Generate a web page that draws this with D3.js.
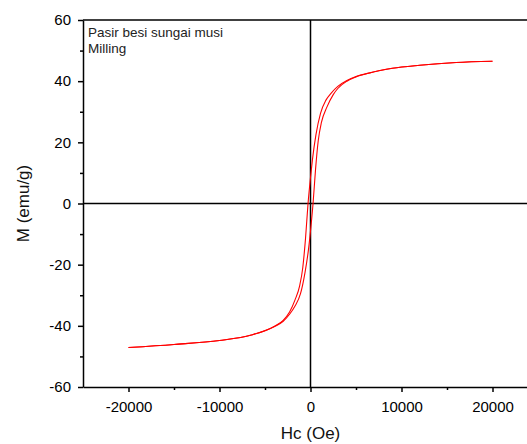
<!DOCTYPE html>
<html>
<head>
<meta charset="utf-8">
<script src="https://cdn.jsdelivr.net/npm/d3@7"></script>
<style>
  body { margin: 0; background: #fff; }
  svg { display: block; font-family: "Liberation Sans", Arial, sans-serif; }
</style>
</head>
<body>
<svg class="chart"></svg>
<script>
// descending branch (left loop side), field in Oe, M in emu/g
var descH = [-20000, -15000, -10000, -6500, -4000, -3000, -2300, -1700, -1200, -850, -550, -270, 0, 220, 600, 1100, 1700, 2300, 3000, 4000, 5000, 6500, 9000, 12000, 16000, 20000];
var descM = [-47.1, -46.1, -44.8, -43.0, -40.2, -38.2, -35.5, -31.5, -27.0, -21.0, -11.5, 0, 8.5, 14.5, 22.5, 29.5, 33.8, 36.2, 38.3, 40.2, 41.5, 42.7, 44.2, 45.2, 46.1, 46.5];

// ascending branch (right loop side)
var ascH = [-20000, -15000, -10000, -6500, -4000, -3000, -2300, -1700, -1100, -600, -220, 0, 280, 550, 850, 1200, 1800, 2500, 3000, 4000, 5000, 6500, 9000, 12000, 16000, 20000];
var ascM = [-47.1, -46.1, -44.8, -43.0, -40.3, -38.5, -36.2, -33.5, -29.5, -22.5, -15.0, -9.0, 0, 11.0, 20.5, 26.5, 31.5, 35.6, 37.6, 40.0, 41.4, 42.7, 44.2, 45.2, 46.1, 46.5];

var xMajor = [-20000, -10000, 0, 10000, 20000];
var xMinor = [-15000, -5000, 5000, 15000];
var yMajor = [-60, -40, -20, 0, 20, 40, 60];
var yMinor = [-50, -30, -10, 10, 30, 50];

var labelLines = ["Pasir besi sungai musi", "Milling"];

var W = 527, H = 444;
var svg = d3.select(".chart").attr("width", W).attr("height", H);

var x = d3.scaleLinear().domain([-25000, 25000]).range([83, 538]);
var y = d3.scaleLinear().domain([-60, 60]).range([387, 20]);

var plain = function (d) { return String(d); };

// minor ticks first
svg.append("g")
  .attr("transform", "translate(0,387)")
  .call(d3.axisBottom(x).tickValues(xMinor).tickSize(3).tickFormat(""))
  .call(function (g) { g.select(".domain").remove(); })
  .selectAll("line").attr("stroke-width", 1.5);

svg.append("g")
  .attr("transform", "translate(83,0)")
  .call(d3.axisLeft(y).tickValues(yMinor).tickSize(3).tickFormat(""))
  .call(function (g) { g.select(".domain").remove(); })
  .selectAll("line").attr("stroke-width", 1.5);

// major axes
var xAxis = svg.append("g")
  .attr("transform", "translate(0,387)")
  .call(d3.axisBottom(x).tickValues(xMajor).tickFormat(plain).tickSize(5).tickSizeOuter(0).tickPadding(9));

var yAxis = svg.append("g")
  .attr("transform", "translate(83,0)")
  .call(d3.axisLeft(y).tickValues(yMajor).tickFormat(plain).tickSize(5).tickSizeOuter(0).tickPadding(7));

[xAxis, yAxis].forEach(function (g) {
  g.select(".domain").attr("stroke-width", 1.5);
  g.selectAll("line").attr("stroke-width", 1.5);
  g.selectAll("text").attr("font-size", 15).attr("fill", "#000")
    .attr("font-family", "'Liberation Sans', Arial, sans-serif");
});

// top border
svg.append("line")
  .attr("x1", 83).attr("x2", 538)
  .attr("y1", 20).attr("y2", 20)
  .attr("stroke", "#000").attr("stroke-width", 1.5);

// zero lines
svg.append("line")
  .attr("x1", 83).attr("x2", 538)
  .attr("y1", y(0)).attr("y2", y(0))
  .attr("stroke", "#000").attr("stroke-width", 1.5);
svg.append("line")
  .attr("x1", x(0)).attr("x2", x(0))
  .attr("y1", 20).attr("y2", 387)
  .attr("stroke", "#000").attr("stroke-width", 1.5);

// hysteresis loop
var line = d3.line()
  .x(function (d) { return x(d[0]); })
  .y(function (d) { return y(d[1]); })
  .curve(d3.curveMonotoneX);

var branches = [d3.zip(descH, descM), d3.zip(ascH, ascM)];
svg.selectAll(".branch")
  .data(branches)
  .enter().append("path")
  .attr("class", "branch")
  .attr("d", line)
  .attr("fill", "none")
  .attr("stroke", "#ff0000")
  .attr("stroke-width", 1.1);

// label in the corner
svg.append("g").selectAll("text")
  .data(labelLines)
  .enter().append("text")
  .attr("x", 88)
  .attr("y", function (d, i) { return 36.5 + i * 16; })
  .attr("font-size", 13.5)
  .attr("fill", "#222")
  .text(function (d) { return d; });

// axis titles
svg.append("text")
  .attr("x", x(0))
  .attr("y", 439)
  .attr("text-anchor", "middle")
  .attr("font-size", 17)
  .attr("fill", "#111")
  .text("Hc (Oe)");

svg.append("text")
  .attr("transform", "translate(29," + y(0) + ") rotate(-90)")
  .attr("text-anchor", "middle")
  .attr("font-size", 17)
  .attr("fill", "#111")
  .text("M (emu/g)");
</script>
</body>
</html>
